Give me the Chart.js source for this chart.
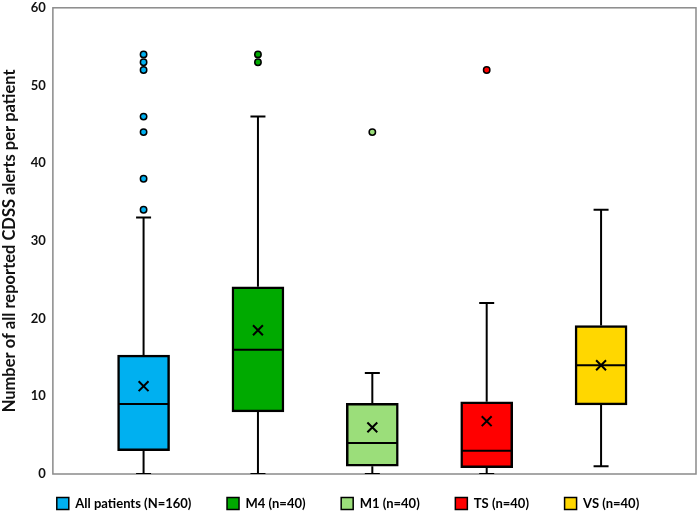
<!DOCTYPE html>
<html>
<head>
<meta charset="utf-8">
<script src="https://cdn.jsdelivr.net/npm/chart.js@4.4.0/dist/chart.umd.min.js"></script>
<style>
  html, body { margin: 0; padding: 0; background: #fff; }
  #wrap { width: 699px; height: 513px; }
</style>
</head>
<body>
<div id="wrap"><canvas id="alertsChart"></canvas></div>
<script>
// Groups and their box plot statistics
const groups = ["All patients (N=160)", "M4 (n=40)", "M1 (n=40)", "TS (n=40)", "VS (n=40)"];
const colors = ["#00B0F0", "#00AA00", "#9BDE7A", "#FF0000", "#FFD700"];
const mins = [0, 0, 0, 0, 1];
const q1s = [3, 8, 1, 0.8, 8.9];
const medians = [9, 16, 4, 3, 14];
const q3s = [15.3, 24.1, 9.1, 9.3, 19.1];
const maxs = [33, 46, 13, 22, 34];
const means = [11.3, 18.5, 6, 6.8, 14];
const outliers = [
    [34, 38, 44, 46, 52, 53, 54],
    [53, 54],
    [44],
    [52],
    []
];
const yTicks = [0, 10, 20, 30, 40, 50, 60];

window.onload = function() {
    alertsChart();
}

function alertsChart()
{
    const pos = groups.map((g, i) => i + 1);

    // whisker segments, broken with null gaps
    const whiskers = [];
    pos.forEach((x, i) => {
        whiskers.push({x: x, y: mins[i]}, {x: x, y: q1s[i]}, {x: x, y: null});
        whiskers.push({x: x, y: q3s[i]}, {x: x, y: maxs[i]}, {x: x, y: null});
    });

    const caps = [];
    pos.forEach((x, i) => {
        caps.push({x: x, y: mins[i]}, {x: x, y: maxs[i]});
    });

    const outPoints = [];
    const outColors = [];
    outliers.forEach((list, i) => {
        list.forEach(v => {
            outPoints.push({x: pos[i], y: v});
            outColors.push(colors[i]);
        });
    });

    // grey frame around the plot area
    const frame = {
        id: 'frame',
        beforeDatasetsDraw(chart) {
            const {ctx, chartArea: {left, top, width, height}} = chart;
            ctx.save();
            ctx.strokeStyle = '#8a8a8a';
            ctx.lineWidth = 1.5;
            ctx.strokeRect(left, top, width, height);
            ctx.restore();
        }
    };

    const ctx = document.getElementById('alertsChart').getContext('2d');
    new Chart(ctx, {
        type: 'bar',
        data: {
            datasets: [{
                type: 'line',
                label: 'whiskers',
                data: whiskers,
                borderColor: '#000',
                borderWidth: 2,
                pointRadius: 0,
                spanGaps: false,
                order: 6
            }, {
                type: 'scatter',
                label: 'caps',
                data: caps,
                pointStyle: 'line',
                pointRadius: 7.5,
                pointHoverRadius: 7.5,
                borderColor: '#000',
                borderWidth: 2,
                order: 5
            }, {
                label: 'boxes',
                data: pos.map((x, i) => ({x: x, y: [q1s[i], q3s[i]]})),
                backgroundColor: colors,
                borderColor: '#000',
                borderWidth: 2.5,
                borderSkipped: false,
                barThickness: 52,
                order: 4
            }, {
                type: 'scatter',
                label: 'median',
                data: pos.map((x, i) => ({x: x, y: medians[i]})),
                pointStyle: 'line',
                pointRadius: 25.5,
                pointHoverRadius: 25.5,
                borderColor: '#000',
                borderWidth: 2,
                order: 3
            }, {
                type: 'scatter',
                label: 'mean',
                data: pos.map((x, i) => ({x: x, y: means[i]})),
                pointStyle: 'crossRot',
                pointRadius: 7,
                pointHoverRadius: 7,
                borderColor: '#000',
                borderWidth: 2,
                order: 2
            }, {
                type: 'scatter',
                label: 'outliers',
                data: outPoints,
                pointRadius: 3.2,
                pointHoverRadius: 3.2,
                backgroundColor: outColors,
                borderColor: '#000',
                borderWidth: 1.5,
                order: 1
            }]
        },
        options: {
            responsive: true,
            maintainAspectRatio: false,
            animation: false,
            layout: {
                autoPadding: false,
                padding: {left: 0, right: 3, top: -3, bottom: -7}
            },
            scales: {
                x: {
                    type: 'linear',
                    min: 0.207,
                    max: 5.83,
                    offset: false,
                    display: false
                },
                y: {
                    min: 0,
                    max: 60,
                    afterBuildTicks: (axis) => {
                        axis.ticks = yTicks.map(v => ({value: v}));
                    },
                    // tick marks are hidden, tickLength only keeps the gap to the axis
                    grid: {display: false, drawTicks: true, tickLength: 7},
                    border: {display: false},
                    ticks: {
                        color: '#111',
                        padding: 0,
                        font: {family: 'Lato', size: 13, weight: 'bold'}
                    },
                    title: {
                        display: true,
                        text: 'Number of all reported CDSS alerts per patient',
                        color: '#111',
                        padding: {top: 0, bottom: 11},
                        font: {family: 'Lato', size: 16.5, weight: 'bold'}
                    }
                }
            },
            plugins: {
                legend: {
                    display: true,
                    position: 'bottom',
                    onClick: null,
                    labels: {
                        boxWidth: 12,
                        boxHeight: 12,
                        padding: 23,
                        color: '#111',
                        font: {family: 'Lato', size: 13, weight: 'bold'},
                        generateLabels: () => groups.map((g, i) => ({
                            text: i < groups.length - 1 ? g + '    ' : g,
                            fillStyle: colors[i],
                            strokeStyle: '#000',
                            lineWidth: 1.5,
                            hidden: false
                        }))
                    }
                },
                tooltip: {enabled: false}
            }
        },
        plugins: [frame]
    });
}
</script>
</body>
</html>
